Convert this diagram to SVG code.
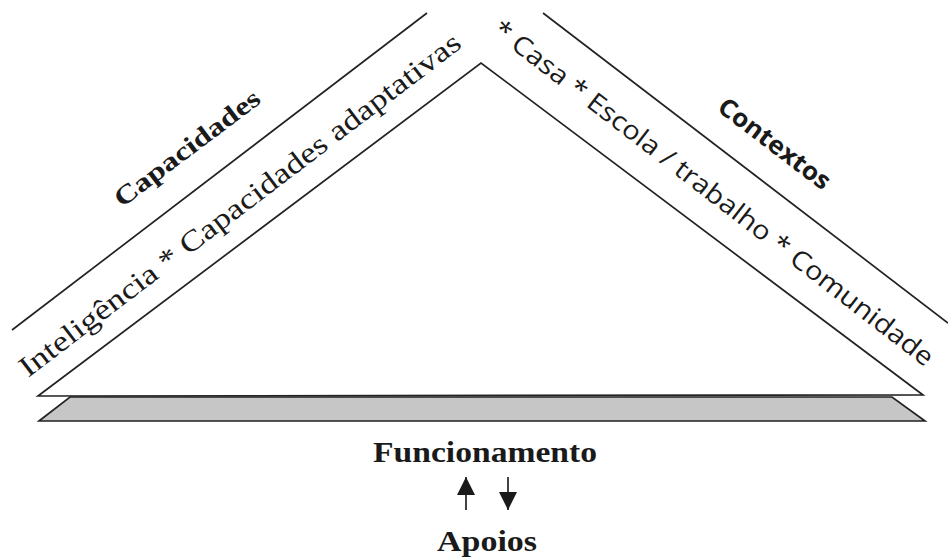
<svg xmlns="http://www.w3.org/2000/svg" width="948" height="560" viewBox="0 0 948 560">
  <style>
    .ln { stroke: #222; stroke-width: 1.7; fill: none; stroke-linejoin: miter; }
    .serif { font-family: "Liberation Serif", "Times New Roman", serif; fill: #1a1a1a; }
    .sans { font-family: "Open Sans", "Noto Sans", "DejaVu Sans", sans-serif; fill: #1a1a1a; }
    .b { font-weight: bold; }
  </style>
  <defs>
    <marker id="ah" viewBox="0 0 18 18" refX="18" refY="9" markerWidth="18" markerHeight="18" orient="auto" markerUnits="userSpaceOnUse">
      <path d="M0,0 L18,9 L0,18 z" fill="#1a1a1a"/>
    </marker>
  </defs>
  <rect width="948" height="560" fill="#fff"/>

  <g id="base">
    <polygon points="70,397 892,397 925,421 39,421" fill="#c6c6c6" stroke="#222" stroke-width="1.7"/>
  </g>
  <g id="triangle">
    <polygon points="38,396 481,63 923,395" fill="#fff" stroke="#222" stroke-width="1.7"/>
  </g>
  <g id="outer-lines">
    <line class="ln" x1="12" y1="330" x2="427" y2="13"/>
    <line class="ln" x1="543" y1="13" x2="948" y2="323"/>
  </g>

  <g id="capacidades">
    <text class="serif b" font-size="26" transform="translate(122,208) rotate(-37.1)" textLength="176" lengthAdjust="spacingAndGlyphs">Capacidades</text>
    <text class="serif" font-size="29" transform="translate(28,378) rotate(-37.3)" textLength="547" lengthAdjust="spacingAndGlyphs">Inteligência * Capacidades adaptativas</text>
  </g>

  <g id="contextos">
    <text class="sans b" font-size="25" transform="translate(716,110) rotate(37.2)" textLength="134" lengthAdjust="spacingAndGlyphs">Contextos</text>
    <text class="sans" font-size="26" transform="translate(491,33) rotate(37.6)" textLength="548" lengthAdjust="spacingAndGlyphs">* Casa * Escola / trabalho * Comunidade</text>
  </g>

  <g id="funcionamento">
    <text class="serif b" font-size="29" x="485" y="462" text-anchor="middle" textLength="224" lengthAdjust="spacingAndGlyphs">Funcionamento</text>
  </g>
  <g id="connectors">
    <path class="ln" d="M466,510 L466,477" marker-end="url(#ah)"/>
    <path class="ln" d="M508,477 L508,510" marker-end="url(#ah)"/>
  </g>
  <g id="apoios">
    <text class="serif b" font-size="30" x="487" y="551" text-anchor="middle" textLength="100" lengthAdjust="spacingAndGlyphs">Apoios</text>
  </g>
</svg>
